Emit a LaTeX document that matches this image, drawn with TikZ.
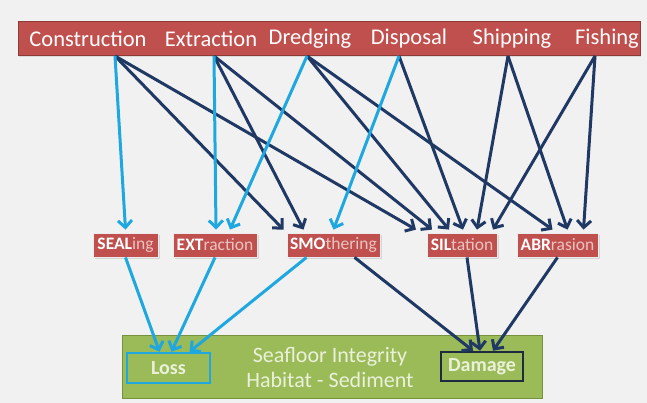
\documentclass[tikz,border=0pt]{standalone}
\usepackage{fontspec}
\setmainfont{Carlito}
\usetikzlibrary{arrows.meta,shadows,calc}
\definecolor{bgc}{HTML}{F1F1F1}
\definecolor{barred}{HTML}{C0504D}
\definecolor{barborder}{HTML}{8E3A37}
\definecolor{pinkt}{HTML}{EBC3C2}
\definecolor{grn}{HTML}{9BBB59}
\definecolor{grnborder}{HTML}{76923C}
\definecolor{grntext}{HTML}{EAF1DA}
\definecolor{lblue}{HTML}{1FA8DF}
\definecolor{navy}{HTML}{1F3864}
\definecolor{dmgborder}{HTML}{1C2B40}
\begin{document}
\begin{tikzpicture}[x=1pt,y=-1pt,
  wtext/.style={text=white,font=\fontsize{22.5}{26}\selectfont,inner sep=0pt},
  midbox/.style={fill=barred,draw=white!85!gray,line width=0.8pt,minimum height=24pt,inner sep=0pt,
    font=\fontsize{17.5}{19}\selectfont,text=white,
    drop shadow={shadow xshift=1.5pt,shadow yshift=-1.5pt,opacity=0.25}},
  lb/.style={draw=lblue,line width=3pt,-{Straight Barb[length=7pt,width=14pt]}},
  dk/.style={draw=navy,line width=3pt,-{Straight Barb[length=7pt,width=14pt]}},
  smallbox/.style={fill=grn,line width=2.5pt,inner sep=0pt,text=grntext,font=\fontsize{20}{22}\selectfont\bfseries}]
\fill[bgc] (0,0) rectangle (647,403);
\useasboundingbox (0,0) rectangle (647,403);
% top bar
\node[draw=barborder,fill=barred,line width=1pt,minimum width=622pt,minimum height=34pt,inner sep=0pt,
  drop shadow={shadow xshift=1pt,shadow yshift=-1.5pt,opacity=0.2}] (bar) at (329,39) {};
\node[wtext] (con) at (88,39) {Construction};
\node[wtext] (ext) at (211,39) {Extraction};
\node[wtext] (dre) at (310,39) {Dredging};
\node[wtext] (dis) at (409,39) {Disposal};
\node[wtext] (shi) at (512,39) {Shipping};
\node[wtext] (fis) at (607,39) {Fishing};
\coordinate (sCon) at (115,56);
\coordinate (sExt) at (214,56);
\coordinate (sDre) at (307,56);
\coordinate (sDis) at (399,56);
\coordinate (sShi) at (508,56);
\coordinate (sFis) at (595,56);
% middle nodes
\node[midbox,minimum width=65pt] (SEAL) at (125.5,245) {{\bfseries SEAL}{\color{pinkt}ing}};
\node[midbox,minimum width=84pt] (EXT) at (215,245) {{\bfseries EXT}{\color{pinkt}raction}};
\node[midbox,minimum width=93pt] (SMO) at (333.5,245) {{\bfseries SMO}{\color{pinkt}thering}};
\node[midbox,minimum width=70pt] (SIL) at (462,245) {{\bfseries SIL}{\color{pinkt}tation}};
\node[midbox,minimum width=81pt] (ABR) at (557.5,245) {{\bfseries ABR}{\color{pinkt}rasion}};
% bottom box
\node[fill=grn,draw=grnborder,line width=1pt,minimum width=420pt,minimum height=63pt,inner sep=0pt] (sea) at (332,366.5) {};
\node[text=grntext,font=\fontsize{22}{25}\selectfont,align=center,inner sep=0pt] (seatxt) at (330,368) {Seafloor Integrity\\Habitat - Sediment};
\node[smallbox,draw=lblue,minimum width=83pt,minimum height=30pt] (loss) at (168.5,368) {Loss};
\node[smallbox,draw=dmgborder,minimum width=82pt,minimum height=29pt] (dmg) at (482,366.5) {Damage};
% dark connectors
\draw[dk] (sCon) -- ([xshift=-50pt,yshift=3pt]SMO.north);
\draw[dk] (sCon) -- ([xshift=-46pt,yshift=3pt]SIL.north);
\draw[dk] (sExt) -- ([xshift=-30pt,yshift=3pt]SMO.north);
\draw[dk] (sExt) -- ([xshift=-30pt,yshift=3pt]SIL.north);
\draw[dk] (sDre) -- ([xshift=-13pt,yshift=3pt]SIL.north);
\draw[dk] (sDre) -- ([xshift=-5pt,yshift=3pt]ABR.north);
\draw[dk] (sDis) -- ([xshift=1pt,yshift=3pt]SIL.north);
\draw[dk] (sShi) -- ([xshift=15pt,yshift=3pt]SIL.north);
\draw[dk] (sShi) -- ([xshift=10pt,yshift=3pt]ABR.north);
\draw[dk] (sFis) -- ([xshift=31pt,yshift=3pt]SIL.north);
\draw[dk] (sFis) -- ([xshift=26pt,yshift=3pt]ABR.north);
% light connectors
\draw[lb] (sCon) -- ([xshift=0pt,yshift=3pt]SEAL.north);
\draw[lb] (sExt) -- ([xshift=1pt,yshift=3pt]EXT.north);
\draw[lb] (sDre) -- ([xshift=15pt,yshift=3pt]EXT.north);
\draw[lb] (sDis) -- ([xshift=0pt,yshift=3pt]SMO.north);
% bottom connectors
\draw[lb] (SEAL.south) -- ([xshift=-9pt]loss.north);
\draw[lb] (EXT.south) -- ([xshift=3pt]loss.north);
\draw[lb] ([xshift=-27pt]SMO.south) -- ([xshift=21pt]loss.north);
\draw[dk] ([xshift=21pt]SMO.south) -- ([xshift=-9pt]dmg.north);
\draw[dk] ([xshift=5pt]SIL.south) -- ([xshift=-2pt]dmg.north);
\draw[dk] (ABR.south) -- ([xshift=11pt]dmg.north);
\end{tikzpicture}
\end{document}
